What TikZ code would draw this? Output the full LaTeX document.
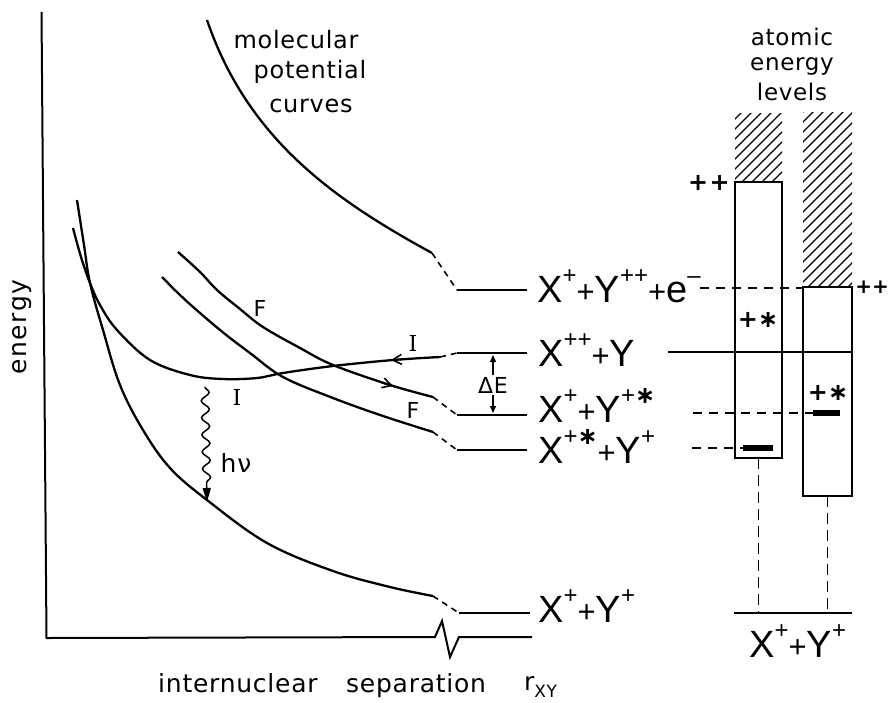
\documentclass[tikz,border=0pt]{standalone}
\usepackage{fontspec}
\setmainfont{Liberation Sans}
\newfontfamily\dvfont[LetterSpace=3]{DejaVu Sans}
\newfontfamily\dvwide[LetterSpace=6]{DejaVu Sans}
\newfontfamily\serfont{DejaVu Serif}
\newfontfamily\djfont{DejaVu Sans}
\usetikzlibrary{arrows.meta,decorations.pathmorphing}
\newcommand\pl{{\fontsize{31}{31}\selectfont +}}
\newcommand\su[1]{\raisebox{19pt}{\fontsize{24}{24}\selectfont #1}}
\newcommand\starsym{{\djfont\bfseries\fontsize{24}{24}\selectfont ∗}}
\begin{document}
\begin{tikzpicture}[x=1pt,y=-1pt,
 curve/.style={line width=2.3pt},
 lev/.style={line width=2pt},
 conn/.style={line width=1.6pt, dash pattern=on 6pt off 5pt},
 dsh/.style={line width=1.6pt, dash pattern=on 9pt off 7pt},
 vdsh/.style={line width=1.6pt, dash pattern=on 11pt off 6pt},
 abox/.style={draw, line width=1.6pt, inner sep=0, outer sep=0},
 hatchln/.style={line width=1.2pt},
 big/.style={font=\fontsize{38}{40}\selectfont, inner sep=0, anchor=base west},
 hdr/.style={font=\dvfont\fontsize{24}{26}\selectfont, inner sep=0, anchor=base},
 axl/.style={font=\dvfont\fontsize{25}{26}\selectfont, inner sep=0},
 cl/.style={font=\djfont\fontsize{22}{22}\selectfont, inner sep=0},
 il/.style={font=\serfont\fontsize{22}{22}\selectfont, inner sep=0},
 pp/.style={font=\dvwide\bfseries\fontsize{24}{24}\selectfont, inner sep=0},
 tip/.style={line width=1.6pt, -{Straight Barb[length=9pt,width=10pt]}},
]
\useasboundingbox (0,0) rectangle (891,702);

% axes
\coordinate (ytop) at (41.5,12);
\coordinate (orig) at (46.5,638);
\coordinate (xend) at (532,637);
\draw[line width=2pt, line join=miter] (ytop) -- (orig) -- (435,637) -- (442,621) -- (450,657) -- (459,637) -- (xend);
\node[axl, font=\dvwide\fontsize{25}{26}\selectfont, rotate=90] (ylab) at (22,327) {energy};
\node[axl, anchor=base west] (xlab1) at (158,692) {internuclear};
\node[axl, anchor=base west] (xlab2) at (346,692) {separation};
\node[axl, anchor=base west] (xlab3) at (524,690) {r\raisebox{-7pt}{\fontsize{17}{17}\selectfont XY}};

% headers
\node[hdr] (h1) at (296,48) {molecular};
\node[hdr] (h2) at (310,78) {potential};
\node[hdr] (h3) at (311,112) {curves};
\node[hdr, font=\dvfont\fontsize{23}{26}\selectfont] (a1) at (792,45) {atomic};
\node[hdr, font=\dvfont\fontsize{23}{26}\selectfont] (a2) at (792,70) {energy};
\node[hdr, font=\dvfont\fontsize{23}{26}\selectfont] (a3) at (792,100) {levels};

% curve end coordinates and levels
\coordinate (c1s) at (207,20);
\coordinate (c1e) at (432,253);
\coordinate (cIe) at (440,357);
\coordinate (cFe) at (433,397);
\coordinate (cGe) at (433,432);
\coordinate (cSe) at (433,596);
\coordinate (l1a) at (457,290); \coordinate (l1b) at (527,290);
\coordinate (l2a) at (457,353); \coordinate (l2b) at (527,353);
\coordinate (l3a) at (457,415); \coordinate (l3b) at (527,415);
\coordinate (l4a) at (457,450); \coordinate (l4b) at (527,450);
\coordinate (l5a) at (459,613); \coordinate (l5b) at (530,613);

% molecular curves
\draw[curve] (c1s) .. controls (248,140) and (335,200) .. (c1e);
\draw[curve] plot[smooth, tension=0.6] coordinates {(77,200) (84,245) (90,283) (103,330) (120,385) (143,430) (170,468) (207,500) (267,543) (333,571) (390,587) (cSe)};
\draw[curve] plot[smooth, tension=0.6] coordinates {(73,228) (81,257) (90,283) (100,305) (117,330) (150,360) (190,375) (223,379) (257,378) (283,373) (333,366) (393,360) (cIe)};
\draw[curve] plot[smooth, tension=0.6] coordinates {(178,252) (200,272) (217,290) (240,309) (263,327) (300,348) (333,365) (390,385) (cFe)};
\draw[curve] plot[smooth, tension=0.6] coordinates {(162,277) (180,295) (200,313) (225,334) (250,353) (283,377) (333,398) (383,416) (cGe)};

% arrows on curves
\coordinate (aIs) at (403,359.3); \coordinate (aIt) at (391,360.1);
\draw[tip] (aIs) -- (aIt);
\coordinate (aFs) at (381,382.3); \coordinate (aFt) at (393,386);
\draw[tip] (aFs) -- (aFt);

% connectors to levels
\draw[conn] (c1e) -- (l1a);
\draw[conn] (cIe) -- (l2a);
\draw[conn] (cFe) -- (l3a);
\draw[conn] (cGe) -- (l4a);
\draw[conn] (cSe) -- (l5a);
\draw[lev] (l1a) -- (l1b);
\draw[lev] (l2a) -- (l2b);
\draw[lev] (l3a) -- (l3b);
\draw[lev] (l4a) -- (l4b);
\draw[lev] (l5a) -- (l5b);

% curve labels
\node[cl] (F1) at (260,308) {F};
\node[cl] (F2) at (413,410) {F};
\node[il] (I1) at (413,343) {I};
\node[il] (I2) at (237,397) {I};

% h nu
\coordinate (hA) at (205,387);
\coordinate (hB) at (207,502);
\draw[line width=1.5pt, decorate, decoration={snake, amplitude=4pt, segment length=17pt, post length=16pt}, -{Triangle[length=14pt,width=8pt]}] (hA) -- (hB);
\node[axl] (hnu) at (236,463) {hν};

% Delta E
\coordinate (dEt) at (493,355);
\coordinate (dEb) at (493,413);
\node[font=\dvfont\fontsize{22}{22}\selectfont, inner sep=1.5pt] (dE) at (493,385) {ΔE};
\draw[line width=1.3pt, -{Triangle[length=7pt,width=6pt]}] (dE.north) -- (dEt);
\draw[line width=1.3pt, -{Triangle[length=7pt,width=6pt]}] (dE.south) -- (dEb);

% level labels
\node[big] (t1) at (537,302) {X\su{+}\pl Y\su{++}\pl e\su{–}};
\node[big] (t2) at (538,366) {X\su{++}\pl Y};
\node[big] (t3) at (538,422) {X\su{+}\pl Y\su{+\starsym}};
\node[big] (t4) at (538,463) {X\su{+\starsym}\pl Y\su{+}};
\node[big] (t5) at (538,622) {X\su{+}\pl Y\su{+}};
\node[big] (t6) at (749,657) {X\su{+}\pl Y\su{+}};

% atomic boxes
\node[abox, minimum width=47pt, minimum height=276pt] (bx1) at (758.5,320) {};
\node[abox, minimum width=49pt, minimum height=209pt] (bx2) at (827.5,391.5) {};
\begin{scope}
\clip (bx1.north west) rectangle (782,113);
\foreach \i in {0,...,12} \draw[hatchln] (670+\i*10,184) -- ++(80,-80);
\end{scope}
\begin{scope}
\clip (bx2.north west) rectangle (852,112);
\foreach \i in {0,...,23} \draw[hatchln] (626+\i*10,289) -- ++(180,-180);
\end{scope}
\node[pp] (pp1) at (709,183) {++};
\node[pp, font=\djfont\bfseries\fontsize{20}{20}\selectfont] (pp2) at (872,287) {++};
\node[pp] (ps1) at (758,320) {+\starsym};
\node[pp] (ps2) at (828,393) {+\starsym};
\node[fill=black, inner sep=0, minimum width=30pt, minimum height=6pt] (bar1) at (758,448) {};
\node[fill=black, inner sep=0, minimum width=27pt, minimum height=6pt] (bar2) at (826.5,413) {};

% atomic level connections
\coordinate (d1s) at (700,288);
\draw[dsh] (d1s) -- (bx2.north west |- d1s);
\coordinate (s2s) at (668,352);
\draw[line width=1.6pt] (s2s) -- (bx2.east |- s2s);
\coordinate (d3s) at (693,413);
\draw[dsh] (d3s) -- (bar2.west);
\coordinate (d4s) at (692,448);
\draw[dsh] (d4s) -- (bar1.west);
\coordinate (base1) at (734,613);
\coordinate (base2) at (852,613);
\draw[line width=2pt] (base1) -- (base2);
\draw[vdsh] (bx1.south) -- (bx1.south |- base1);
\draw[vdsh] (bx2.south) -- (bx2.south |- base1);
\end{tikzpicture}
\end{document}
